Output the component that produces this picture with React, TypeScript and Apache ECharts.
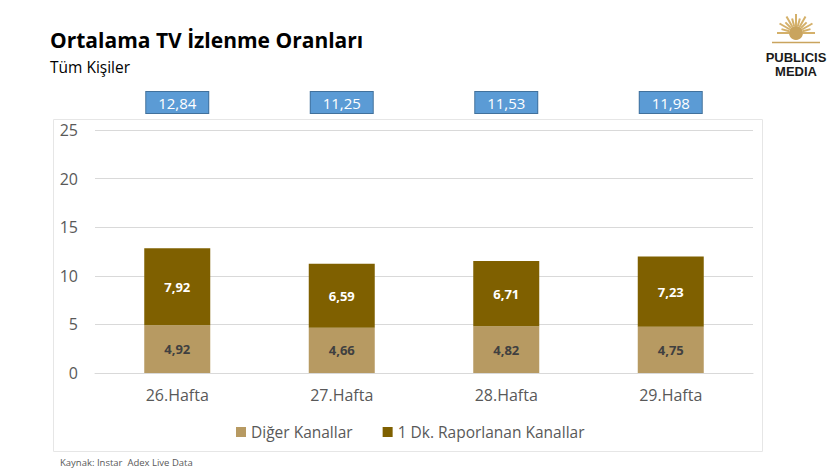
import React, { useEffect, useRef } from "react";
import * as echarts from "echarts";

const categories = ["26.Hafta", "27.Hafta", "28.Hafta", "29.Hafta"];
const digerKanallar = [4.92, 4.66, 4.82, 4.75];
const raporlananKanallar = [7.92, 6.59, 6.71, 7.23];
const yTicks = { min: 0, max: 25, interval: 5 };

const fmt = (v: number) => v.toFixed(2).replace(".", ",");
const totals = categories.map((_, i) => digerKanallar[i] + raporlananKanallar[i]);

const FONT = "Open Sans";

export default function App() {
  const ref = useRef<HTMLDivElement>(null);
  useEffect(() => {
    if (!ref.current) return;
    const chart = echarts.init(ref.current, undefined, { renderer: "svg" });
    const rays: any[] = [];
    for (let k = 0; k < 13; k++) {
      const a = Math.PI + (k * Math.PI) / 12;
      rays.push({
        type: "line",
        shape: {
          x1: 796 + Math.cos(a) * 7,
          y1: 33 + Math.sin(a) * 7,
          x2: 796 + Math.cos(a) * (k % 2 ? 15 : 19),
          y2: 33 + Math.sin(a) * (k % 2 ? 15 : 19),
        },
        style: { stroke: "#D4B06A", lineWidth: 2 },
      });
    }
    chart.setOption({
      animation: false,
      textStyle: { fontFamily: FONT },
      grid: { left: 95, right: 84, top: 130, bottom: 97 },
      legend: {
        data: ["Diğer Kanallar", "1 Dk. Raporlanan Kanallar"],
        left: 231,
        top: 419,
        itemWidth: 10,
        itemHeight: 10,
        itemGap: 30,
        icon: "rect",
        textStyle: { fontSize: 15.5, color: "#595959", fontFamily: FONT },
      },
      xAxis: [
        {
          type: "category",
          data: categories,
          axisLine: { show: true, lineStyle: { color: "#D9D9D9" } },
          axisTick: { show: false },
          axisLabel: { fontSize: 16, color: "#595959", margin: 14 },
        },
        {
          type: "category",
          data: categories,
          position: "top",
          axisLine: { show: false },
          axisTick: { show: false },
          axisLabel: {
            margin: 17,
            formatter: (_: string, i: number) => fmt(totals[i]),
            fontSize: 15,
            color: "#FFFFFF",
            backgroundColor: "#5B9BD5",
            borderColor: "#41719C",
            borderWidth: 1,
            width: 62,
            height: 21,
            lineHeight: 21,
            align: "center",
          },
        },
      ],
      yAxis: {
        type: "value",
        ...yTicks,
        axisLine: { show: false },
        axisTick: { show: false },
        splitLine: { lineStyle: { color: "#D9D9D9" } },
        axisLabel: { fontSize: 16, color: "#595959", margin: 17 },
      },
      series: [
        {
          name: "Diğer Kanallar",
          type: "bar",
          stack: "t",
          barWidth: 66,
          data: digerKanallar,
          itemStyle: { color: "#B79A62" },
          label: {
            show: true,
            position: "inside",
            formatter: (p: any) => fmt(p.value),
            color: "#404040",
            fontWeight: "bold",
            fontSize: 13,
          },
        },
        {
          name: "1 Dk. Raporlanan Kanallar",
          type: "bar",
          stack: "t",
          barWidth: 66,
          data: raporlananKanallar,
          itemStyle: { color: "#7F6000" },
          label: {
            show: true,
            position: "inside",
            formatter: (p: any) => fmt(p.value),
            color: "#FFFFFF",
            fontWeight: "bold",
            fontSize: 13,
          },
        },
      ],
      graphic: [
        {
          type: "rect",
          shape: { x: 53.5, y: 119.5, width: 709, height: 332 },
          style: { fill: "none", stroke: "#E6E6E6", lineWidth: 1 },
          z: -1,
        },
        {
          type: "text",
          left: 50,
          top: 29,
          style: {
            text: "Ortalama TV İzlenme Oranları",
            fontSize: 21,
            fontWeight: "bold",
            fill: "#000000",
            fontFamily: FONT,
          },
        },
        {
          type: "text",
          left: 50,
          top: 59,
          style: { text: "Tüm Kişiler", fontSize: 15.5, fill: "#000000", fontFamily: FONT },
        },
        {
          type: "text",
          left: 60,
          top: 457,
          style: {
            text: "Kaynak: Instar  Adex Live Data",
            fontSize: 9.5,
            fill: "#595959",
            fontFamily: FONT,
          },
        },
        ...rays,
        {
          type: "circle",
          shape: { cx: 796, cy: 33, r: 7 },
          style: { fill: "#C9A45E" },
        },
        {
          type: "line",
          shape: { x1: 772, y1: 42.5, x2: 820, y2: 42.5 },
          style: { stroke: "#C9A45E", lineWidth: 1.5 },
        },
        {
          type: "text",
          x: 796,
          y: 57,
          style: {
            text: "PUBLICIS",
            fontSize: 13,
            fontWeight: "bold",
            fill: "#1A1A1A",
            fontFamily: "Liberation Sans",
            align: "center",
            verticalAlign: "middle",
          },
        },
        {
          type: "text",
          x: 796,
          y: 71,
          style: {
            text: "MEDIA",
            fontSize: 13,
            fontWeight: "bold",
            fill: "#1A1A1A",
            fontFamily: "Liberation Sans",
            align: "center",
            verticalAlign: "middle",
          },
        },
      ],
    });
    return () => chart.dispose();
  }, []);
  return <div ref={ref} style={{ width: 837, height: 470, position: "absolute", left: 0, top: 0 }} />;
}
